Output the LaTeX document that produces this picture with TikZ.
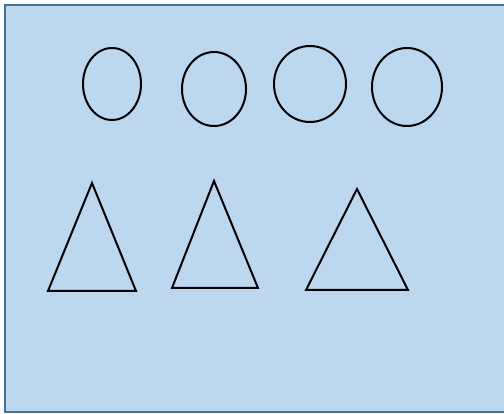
\documentclass[tikz,border=0pt]{standalone}
\definecolor{bgfill}{HTML}{BDD7EE}
\definecolor{bgline}{HTML}{41719C}
\begin{document}
\begin{tikzpicture}[x=1pt,y=-1pt,
  outline/.style={draw=black,line width=2pt,line join=miter},
  bg/.style={fill=bgfill,draw=bgline,line width=2pt}]
\useasboundingbox (0,0) rectangle (504,414);
\begin{scope}
\clip (0,0) rectangle (504,414);
\draw[bg] (5,5) rectangle (510,412);
\end{scope}
% ellipses
\draw[outline] (112,84) ellipse [x radius=29, y radius=36];
\draw[outline] (214,89) ellipse [x radius=32, y radius=37];
\draw[outline] (310,84) ellipse [x radius=36, y radius=38];
\draw[outline] (407,87) ellipse [x radius=35, y radius=39];
% triangles
\draw[outline] (92,183) -- (136,291) -- (48,291) -- cycle;
\draw[outline] (214,181) -- (258,288) -- (172,288) -- cycle;
\draw[outline] (357,189) -- (408,290) -- (306,290) -- cycle;
\end{tikzpicture}
\end{document}
